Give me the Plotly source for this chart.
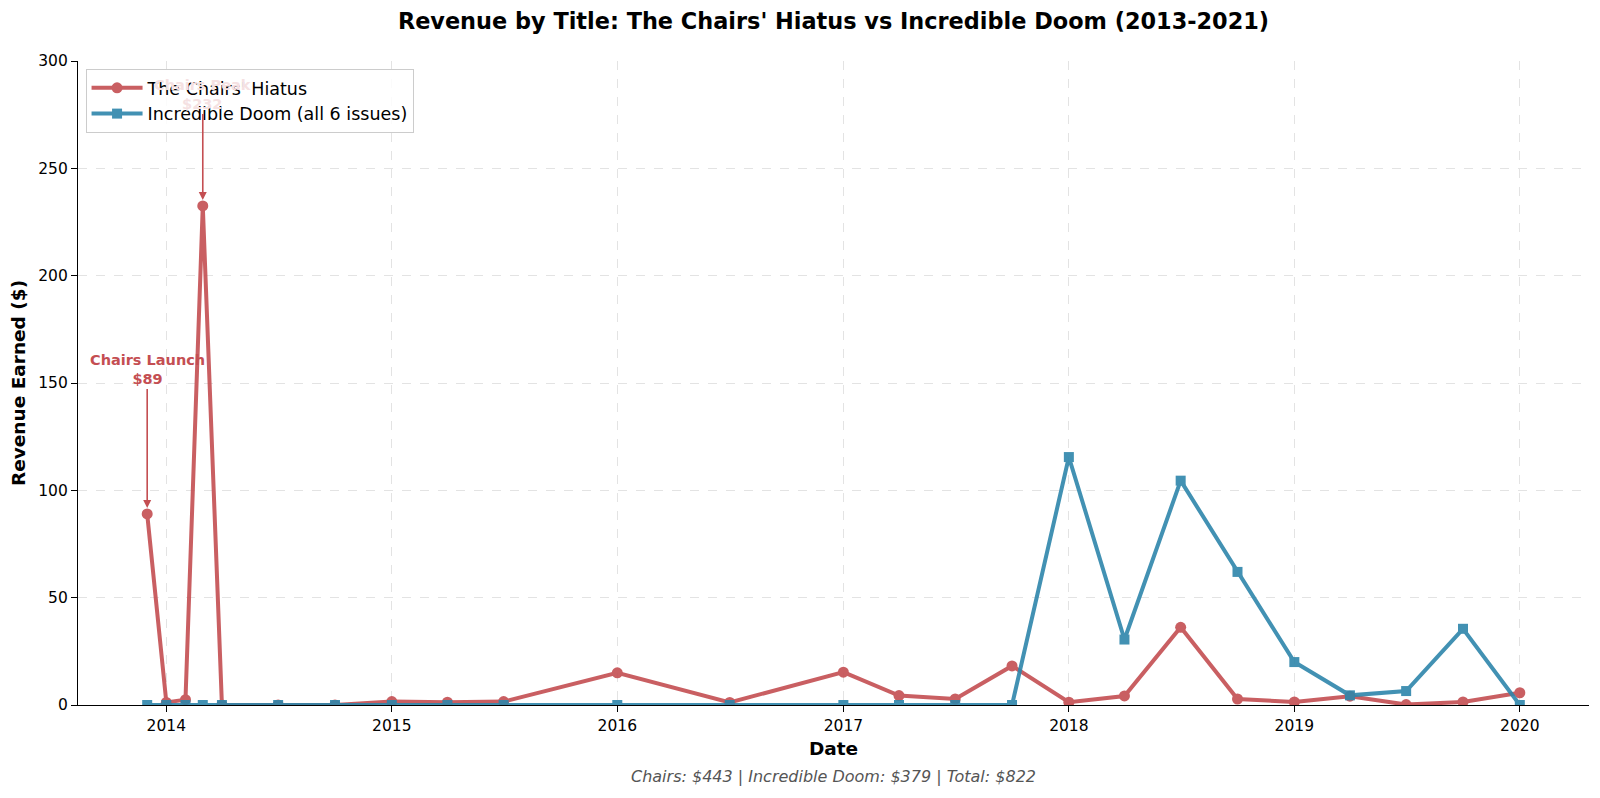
import plotly.graph_objects as go

dates = ["2013-12-01", "2014-01-01", "2014-02-01", "2014-03-01", "2014-04-01",
         "2014-07-01", "2014-10-01", "2015-01-01", "2015-04-01", "2015-07-01",
         "2016-01-01", "2016-07-01", "2017-01-01", "2017-04-01", "2017-07-01",
         "2017-10-01", "2018-01-01", "2018-04-01", "2018-07-01", "2018-10-01",
         "2019-01-01", "2019-04-01", "2019-07-01", "2019-10-01", "2020-01-01"]

chairs = [89, 1.2, 2.5, 232.5, 0, 0, 0, 1.6, 1.3, 1.6,
          15, 1.2, 15.3, 4.4, 2.8, 18.2, 1.3, 4.2, 36.2, 2.8,
          1.4, 4.1, 0.2, 1.4, 5.7]

doom = [0, 0, 0, 0, 0, 0, 0, 0, 0, 0,
        0, 0, 0, 0, 0, 0, 115.5, 30.5, 104.5, 62,
        20, 4.5, 6.5, 35.5, 0]

title = "Revenue by Title: The Chairs' Hiatus vs Incredible Doom (2013-2021)"
footer = "Chairs: $443 | Incredible Doom: $379 | Total: $822"
launch_label = "Chairs Launch<br>$89"
peak_label = "Chairs Peak<br>$232"
RED = "#C44E52"
RED_FADED = "#F5E1E2"   # label sits behind the semi-opaque legend box
BLUE = "#2E86AB"
FONT = "DejaVu Sans"

fig = go.Figure()
fig.add_trace(go.Scatter(
    x=dates, y=chairs, mode="lines+markers", name="The Chairs' Hiatus",
    line=dict(color=RED, width=4), opacity=0.9,
    marker=dict(symbol="circle", size=11, color=RED)))
fig.add_trace(go.Scatter(
    x=dates, y=doom, mode="lines+markers", name="Incredible Doom (all 6 issues)",
    line=dict(color=BLUE, width=4), opacity=0.9,
    marker=dict(symbol="square", size=10, color=BLUE)))

fig.add_annotation(x=dates[0], y=chairs[0], xref="x", yref="y",
                   text="<b>" + launch_label + "</b>", showarrow=True,
                   arrowhead=2, arrowsize=1, arrowwidth=1.6, arrowcolor=RED,
                   ax=0, ay=-144, standoff=6,
                   font=dict(family=FONT, size=14.5, color=RED))
fig.add_annotation(x=dates[3], y=chairs[3], xref="x", yref="y",
                   text="<b>" + peak_label + "</b>", showarrow=True,
                   arrowhead=2, arrowsize=1, arrowwidth=1.6, arrowcolor=RED,
                   ax=0, ay=-111, standoff=6,
                   font=dict(family=FONT, size=14.5, color=RED_FADED))
fig.add_annotation(x=0.5, y=-0.1118, xref="paper", yref="paper",
                   text="<i>" + footer + "</i>", showarrow=False,
                   xanchor="center", yanchor="middle",
                   font=dict(family=FONT, size=16, color="#555555"))

fig.update_layout(
    width=1592, height=790,
    paper_bgcolor="white", plot_bgcolor="white",
    margin=dict(l=69.5, r=11, t=53, b=93),
    font=dict(family=FONT, size=15.5, color="black"),
    title=dict(text="<b>" + title + "</b>", x=0.5, xref="paper", xanchor="center",
               y=1 - 13 / 790, yanchor="middle",
               font=dict(family=FONT, size=22.4, color="black")),
    legend=dict(x=0.005, y=0.9876, xanchor="left", yanchor="top",
                bgcolor="rgba(255,255,255,0.85)", bordercolor="#cccccc", borderwidth=1,
                font=dict(family=FONT, size=17.5), itemwidth=51, tracegroupgap=0),
    showlegend=True,
)
fig.update_xaxes(
    type="date", range=["2013-08-11", "2020-04-22"],
    tick0="2014-01-01", dtick="M12", tickformat="%Y",
    showline=True, linecolor="black", linewidth=1.2, mirror=False,
    ticks="outside", ticklen=6, tickcolor="black", tickfont=dict(family=FONT, size=15.5),
    showgrid=True, gridcolor="#e3e3e3", griddash="dash", gridwidth=1,
    zeroline=False, automargin=False,
    title=dict(text="<b>Date</b>", font=dict(family=FONT, size=18.5), standoff=8))
fig.update_yaxes(
    range=[0, 300], tick0=0, dtick=50,
    showline=True, linecolor="black", linewidth=1.2,
    ticks="outside", ticklen=6, tickcolor="black", tickfont=dict(family=FONT, size=15.5),
    showgrid=True, gridcolor="#e3e3e3", griddash="dash", gridwidth=1,
    zeroline=False, automargin=False,
    title=dict(text="<b>Revenue Earned ($)</b>", font=dict(family=FONT, size=18.5), standoff=11))

fig.write_html("out.html")
